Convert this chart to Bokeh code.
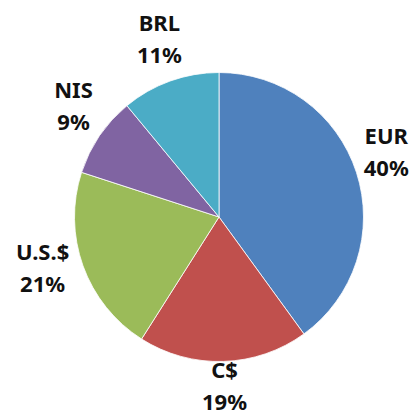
import numpy as np
from bokeh.plotting import figure
from bokeh.models import Range1d
from bokeh.core.properties import value
from bokeh.embed import file_html
from bokeh.resources import INLINE

currencies = ["EUR", "C$", "U.S.$", "NIS", "BRL"]
shares = [40, 19, 21, 9, 11]
colors = ["#4F81BD", "#C0504D", "#9BBB59", "#8064A2", "#4BACC6"]

W, H = 414, 416
p = figure(width=W, height=H, x_range=Range1d(0, W), y_range=Range1d(0, H),
           output_backend="svg", toolbar_location=None, min_border=0)
p.axis.visible = False
p.grid.visible = False
p.outline_line_color = None
p.background_fill_color = "white"
p.border_fill_color = "white"

cx, cy, r = 218.5, H - 216.5, 144.5

frac = np.array(shares, dtype=float) / sum(shares)
c1 = np.cumsum(frac)
c0 = c1 - frac
start = np.pi / 2 - 2 * np.pi * c0
end = np.pi / 2 - 2 * np.pi * c1

p.wedge(x=cx, y=cy, radius=r, start_angle=list(start), end_angle=list(end),
        direction="clock", fill_color=colors, line_color="white", line_width=0.8)

pct_labels = [f"{s}%" for s in shares]
nchar = np.array([max(len(a), len(b)) for a, b in zip(currencies, pct_labels)])
half_w = 5.8 * nchar

mid = (start + end) / 2
ux, uy = np.cos(mid), np.sin(mid)
lx = cx + (r + 14 + half_w) * ux
ly = cy + (r + 34.5) * uy + 10

font = value("Noto Sans")
p.text(x=list(lx), y=list(ly), text=currencies, text_align="center", text_baseline="middle",
       y_offset=-17, text_font=font, text_font_style="bold", text_font_size="22px",
       text_color="#111111")
p.text(x=list(lx), y=list(ly), text=pct_labels, text_align="center",
       text_baseline="middle", y_offset=15, text_font=font, text_font_style="bold",
       text_font_size="22px", text_color="#111111")

open("out.html", "w").write(file_html(p, INLINE))
